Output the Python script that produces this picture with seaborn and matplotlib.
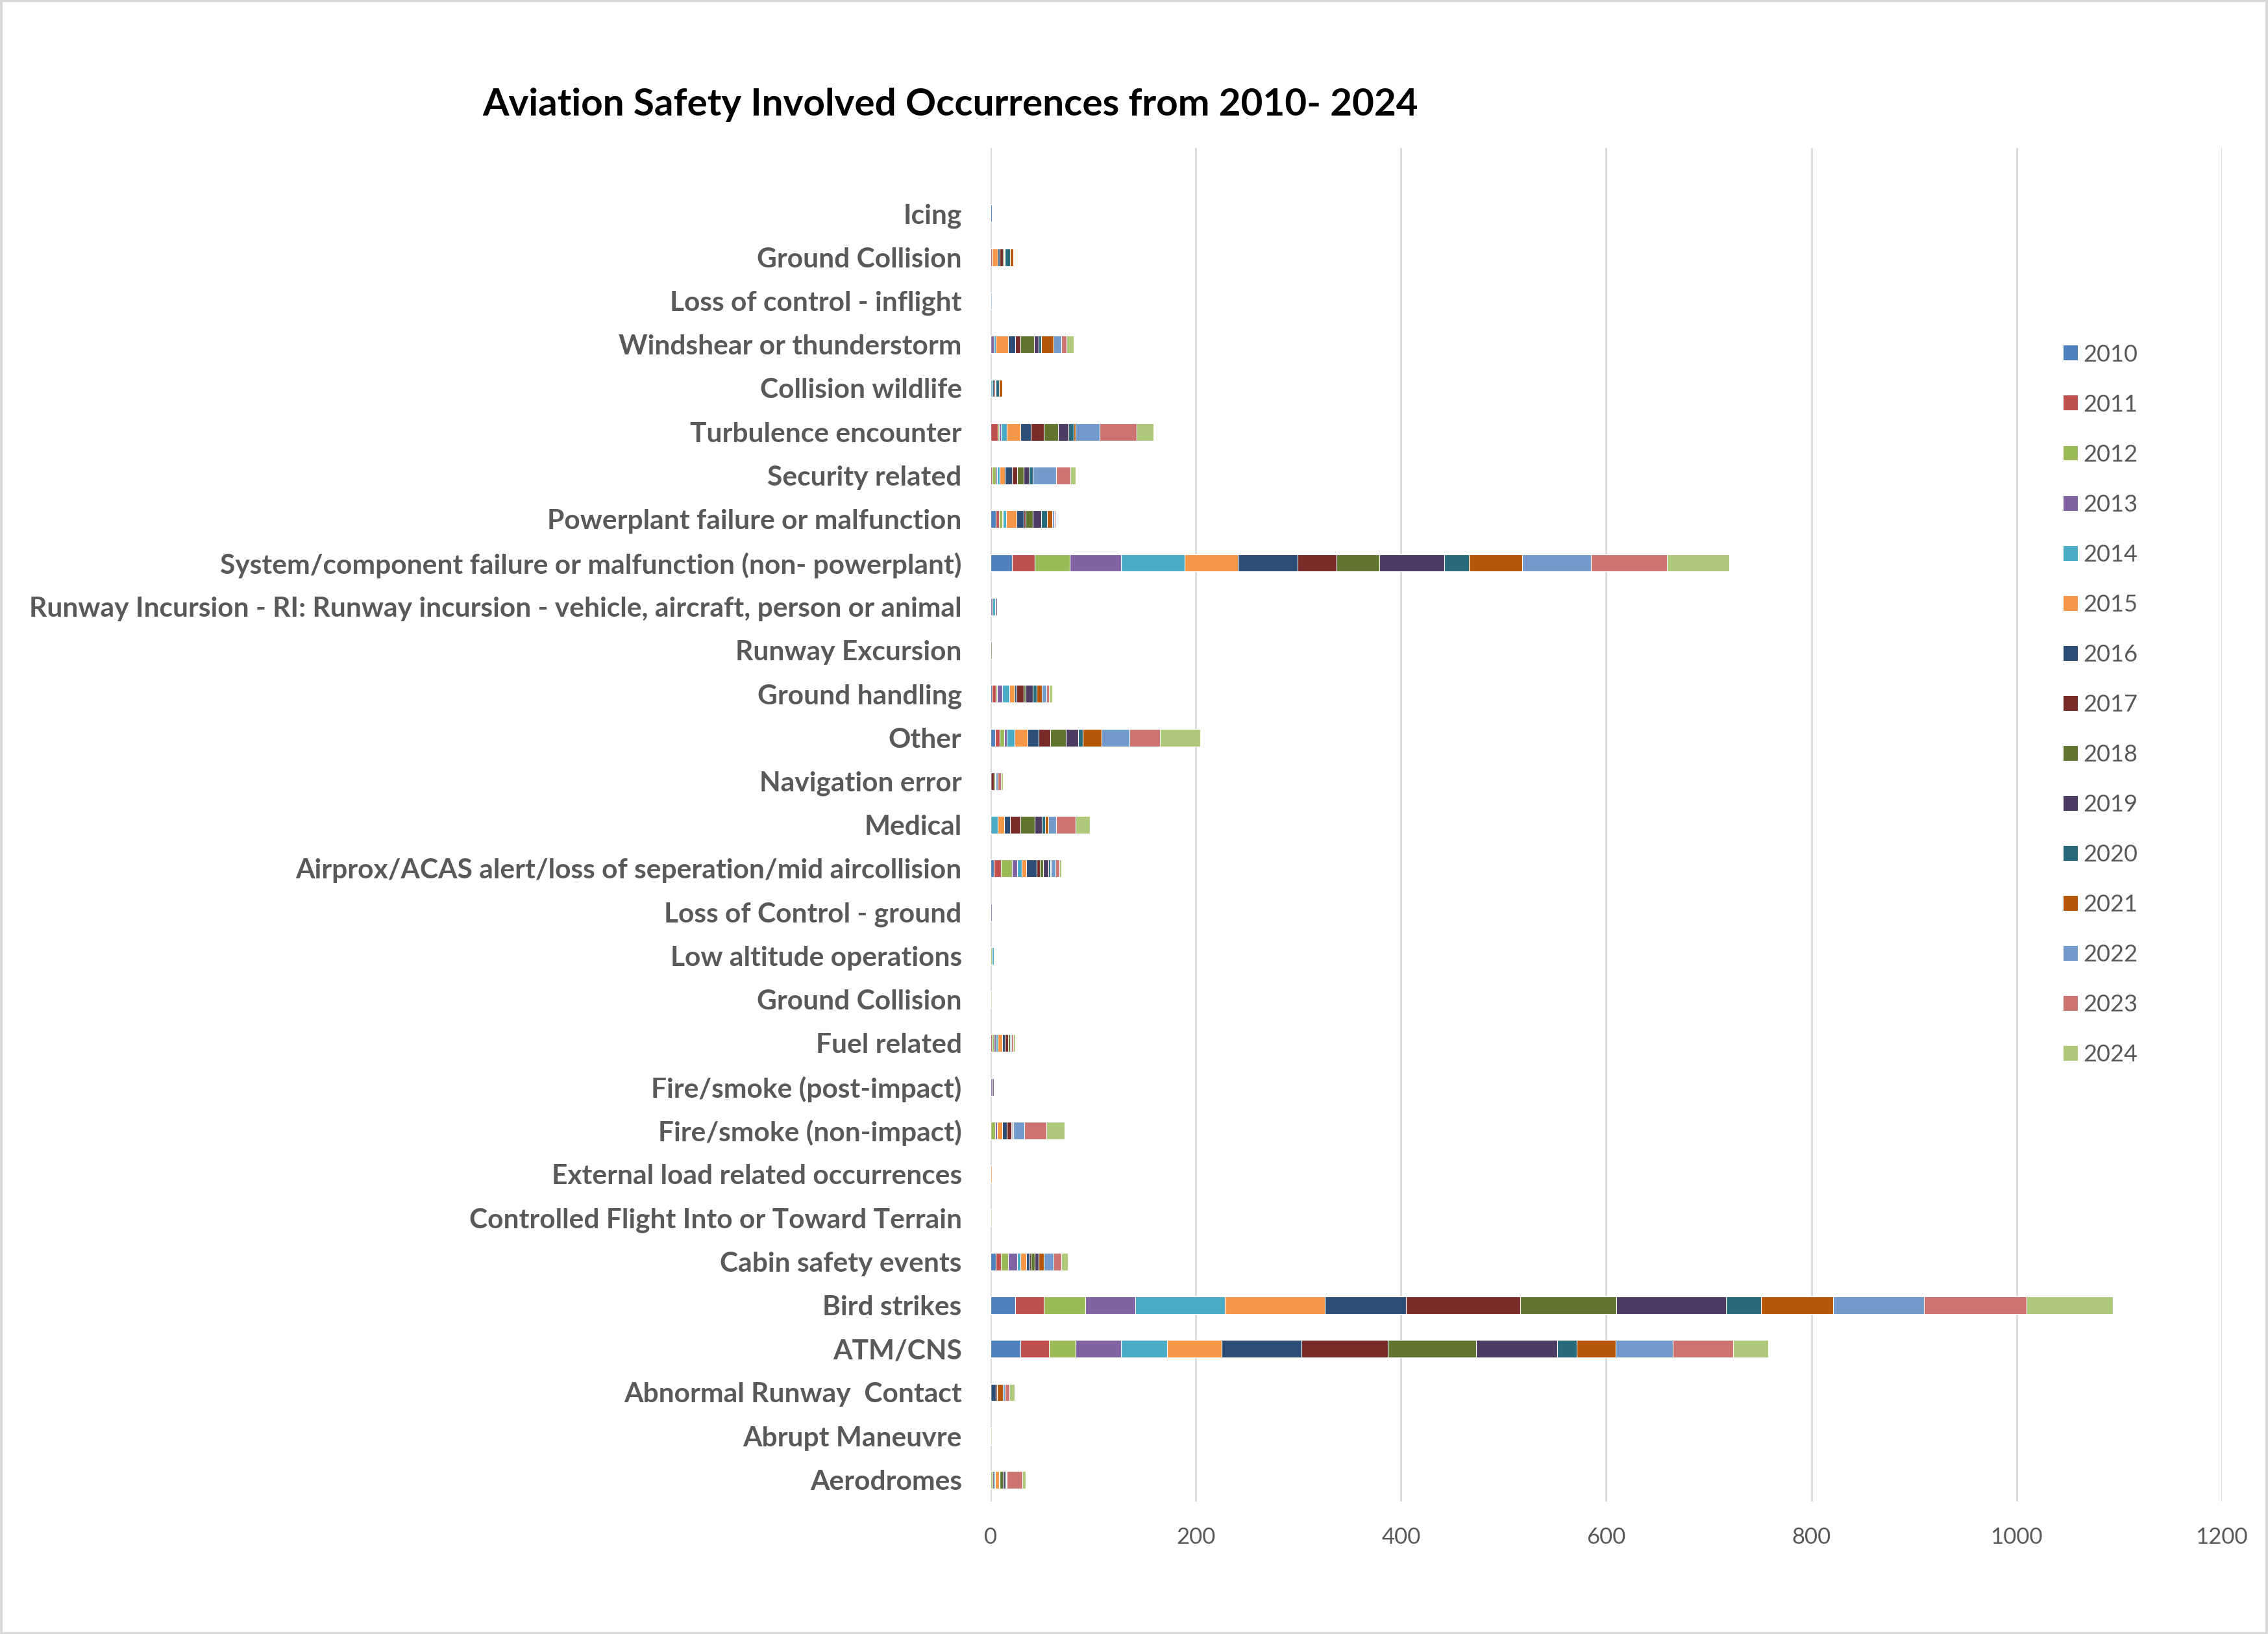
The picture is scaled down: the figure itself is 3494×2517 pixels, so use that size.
import numpy as np
import matplotlib
matplotlib.use("Agg")
import matplotlib.pyplot as plt
from matplotlib.patches import Patch, Rectangle
import seaborn as sns

years = [str(y) for y in range(2010, 2025)]
colors = ['#4F81BD', '#C0504D', '#9BBB59', '#8064A2', '#4BACC6', '#F79646',
          '#2C4D75', '#772C2A', '#5F7530', '#4D3B62', '#276A7C', '#B65708',
          '#729ACA', '#CD7371', '#AFC97A']

categories = [
    'Icing', 'Ground Collision', 'Loss of control - inflight',
    'Windshear or thunderstorm', 'Collision wildlife', 'Turbulence encounter',
    'Security related', 'Powerplant failure or malfunction',
    'System/component failure or malfunction (non- powerplant)',
    'Runway Incursion - RI: Runway incursion - vehicle, aircraft, person or animal',
    'Runway Excursion', 'Ground handling', 'Other', 'Navigation error', 'Medical',
    'Airprox/ACAS alert/loss of seperation/mid aircollision',
    'Loss of Control - ground', 'Low altitude operations', 'Ground Collision',
    'Fuel related', 'Fire/smoke (post-impact)', 'Fire/smoke (non-impact)',
    'External load related occurrences', 'Controlled Flight Into or Toward Terrain',
    'Cabin safety events', 'Bird strikes', 'ATM/CNS', 'Abnormal Runway  Contact',
    'Abrupt Maneuvre', 'Aerodromes',
]

# counts per year 2010..2024, one list per category (top to bottom)
icing = [1, 0, 0, 0, 0, 0, 0, 0, 0, 0, 0, 0, 0, 0, 0]
ground_collision_a = [0, 1, 0, 0, 0, 6, 2, 3, 1, 1, 5, 3, 0, 0, 0]
loss_inflight = [0, 0, 0, 0, 0, 0, 0, 0, 0, 0, 0, 0, 1, 0, 0]
windshear = [0, 0, 0, 3, 2, 12, 7, 5, 13, 5, 2, 12, 8, 5, 7]
wildlife = [0, 0, 0, 0, 2, 0, 1, 1, 0, 1, 3, 3, 0, 0, 0]
turbulence = [0, 7, 1, 2, 6, 13, 10, 13, 14, 10, 5, 2, 23, 36, 17]
security = [0, 1, 4, 1, 3, 5, 7, 5, 6, 5, 4, 0, 23, 14, 5]
powerplant = [5, 3, 3, 1, 3, 10, 7, 2, 7, 8, 6, 5, 2, 1, 1]
system_comp = [21, 22, 34, 50, 62, 52, 58, 38, 42, 63, 24, 52, 67, 74, 61]
rwy_incursion = [0, 0, 0, 2, 2, 0, 1, 0, 0, 1, 1, 0, 0, 0, 0]
rwy_excursion = [0, 0, 0, 0, 0, 0, 0, 0, 1, 0, 0, 0, 0, 0, 0]
ground_handling = [1, 4, 1, 5, 7, 5, 2, 7, 2, 7, 4, 5, 4, 3, 3]
other = [4, 5, 4, 3, 7, 13, 11, 11, 15, 12, 5, 18, 27, 30, 39]
navigation = [0, 0, 0, 0, 0, 0, 0, 3, 1, 0, 0, 1, 2, 3, 2]
medical = [0, 0, 0, 0, 7, 6, 6, 10, 14, 7, 3, 3, 8, 19, 14]
airprox = [3, 7, 11, 5, 4, 5, 10, 3, 3, 5, 2, 1, 4, 4, 2]
loss_ground = [0, 0, 0, 1, 0, 0, 0, 0, 0, 0, 0, 0, 0, 0, 0]
low_altitude = [0, 0, 1, 0, 2, 0, 0, 0, 0, 0, 0, 0, 0, 0, 0]
ground_collision_b = [0, 0, 0, 0, 0, 0, 0, 0, 0, 0, 0, 0, 0, 0, 1]
fuel = [0, 1, 2, 2, 2, 4, 3, 3, 2, 0, 1, 0, 0, 2, 2]
fire_post = [0, 0, 0, 2, 0, 0, 0, 0, 0, 1, 0, 0, 0, 0, 0]
fire_non = [0, 0, 4, 2, 0, 5, 5, 4, 1, 1, 0, 0, 11, 21, 18]
external_load = [0, 0, 0, 0, 0, 1, 0, 0, 0, 0, 0, 0, 0, 0, 0]
cfit = [0, 0, 0, 0, 0, 0, 0, 0, 0, 0, 0, 0, 0, 0, 1]
cabin = [5, 5, 7, 9, 3, 6, 3, 1, 4, 4, 0, 5, 9, 8, 6]
bird = [24, 28, 40, 49, 87, 98, 79, 111, 94, 107, 34, 70, 89, 100, 84]
atm = [29, 28, 26, 44, 45, 53, 78, 84, 86, 79, 19, 38, 56, 59, 34]
abnormal_rwy = [0, 0, 0, 0, 0, 0, 5, 1, 0, 0, 0, 6, 2, 4, 5]
abrupt = [0, 0, 0, 0, 0, 0, 0, 0, 0, 0, 0, 0, 0, 0, 1]
aerodromes = [0, 0, 2, 1, 1, 4, 1, 0, 3, 2, 1, 1, 0, 15, 3]

counts = np.array([
    icing, ground_collision_a, loss_inflight, windshear, wildlife, turbulence,
    security, powerplant, system_comp, rwy_incursion, rwy_excursion,
    ground_handling, other, navigation, medical, airprox, loss_ground,
    low_altitude, ground_collision_b, fuel, fire_post, fire_non, external_load,
    cfit, cabin, bird, atm, abnormal_rwy, abrupt, aerodromes,
])
cum = counts.cumsum(axis=1)

sns.set_theme(style='white')
plt.rcParams['font.family'] = ['Lato', 'DejaVu Sans']

fig = plt.figure(figsize=(17.47, 12.585), dpi=200)
ax = fig.add_axes([0.4368, 0.0810, 0.9796 - 0.4368, 0.9094 - 0.0810])

pos = list(range(len(categories)))
# stacked bars: draw running totals from the last year back to the first
for i in range(len(years) - 1, -1, -1):
    sns.barplot(x=cum[:, i], y=pos, orient='h', color=colors[i], width=0.4,
                errorbar=None, edgecolor='white', linewidth=0.4, saturation=1,
                ax=ax)

ax.set_xlim(0, 1200)
ax.set_xticks(range(0, 1201, 200))
ax.set_ylim(len(categories) - 0.5, -1.5)
ax.set_yticks(pos)
ax.set_yticklabels(categories, fontsize=15.3, fontweight='bold', color='#595959')
ax.tick_params(axis='x', labelsize=12.5, labelcolor='#595959', length=0, pad=14)
ax.tick_params(axis='y', length=0, pad=16)
ax.set_xlabel('')
ax.set_ylabel('')
ax.xaxis.grid(True, color='#D9D9D9', linewidth=1.0)
ax.yaxis.grid(False)
ax.set_axisbelow(True)
for s in ax.spines.values():
    s.set_visible(False)

fig.text(0.419, 0.936, 'Aviation Safety Involved Occurrences from 2010- 2024',
         ha='center', va='center', fontsize=21, fontweight='bold', color='black')

handles = [Patch(facecolor=c, edgecolor='none') for c in colors]
fig.legend(handles, years, loc='upper left', bbox_to_anchor=(0.9005, 0.8025),
           frameon=False, fontsize=13, labelcolor='#595959',
           handlelength=0.6, handleheight=0.6, handletextpad=0.25,
           labelspacing=1.22)

fig.patches.append(Rectangle((0.0005, 0.0005), 0.999, 0.999, transform=fig.transFigure,
                             fill=False, edgecolor='#D9D9D9', linewidth=1.5))

fig.savefig('out.png', dpi=200)
